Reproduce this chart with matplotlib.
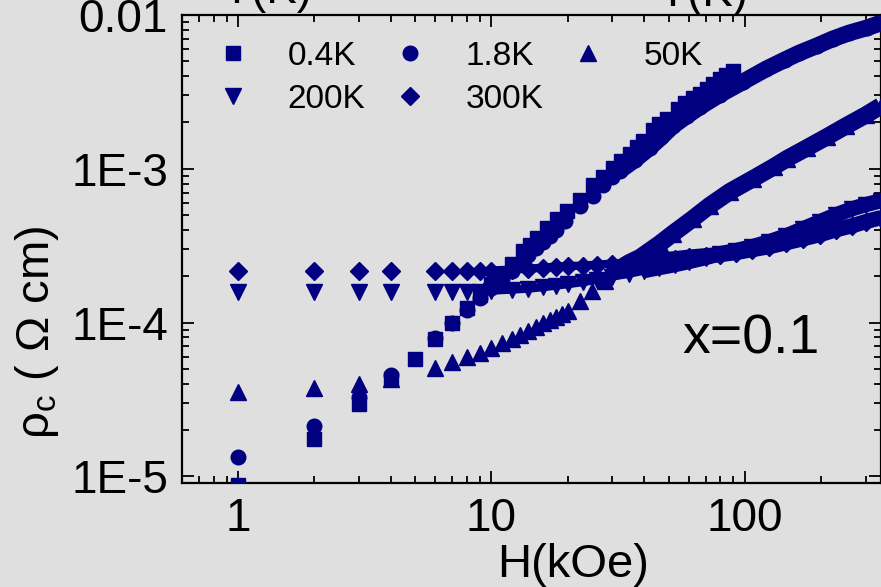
import matplotlib
matplotlib.use('Agg')
import matplotlib.pyplot as plt
from matplotlib.ticker import FixedLocator, FixedFormatter, LogLocator, NullFormatter
from matplotlib.lines import Line2D

plt.rcParams['font.family'] = ['Liberation Sans', 'DejaVu Sans']
plt.rcParams['mathtext.fontset'] = 'custom'
plt.rcParams['mathtext.rm'] = 'Liberation Sans'
plt.rcParams['mathtext.it'] = 'Liberation Sans:italic'

NAVY = '#000080'
BG = '#dfdfdf'

# field (kOe) and c-axis resistivity (Ohm cm)
# 0.4 K
h_04 = [1, 2, 3, 4, 5, 6, 7, 8, 9, 10, 10.8, 12, 13.3, 14.2, 15.1, 16.6, 18.2, 19.9,
        22.3, 25.1, 27.5, 30.1, 32.5, 35.2, 37.5, 39.6, 43.4, 46, 49.2, 54.4, 58,
        62.4, 66.5, 70.8, 75, 79.7, 84.5, 89.7]
r_04 = [8.8e-6, 1.75e-5, 2.94e-5, 4.3e-5, 5.8e-5, 7.8e-5, 1.0e-4, 1.25e-4, 1.5e-4,
        1.78e-4, 2.0e-4, 2.4e-4, 2.94e-4, 3.2e-4, 3.56e-4, 4.1e-4, 4.7e-4, 5.3e-4,
        6.3e-4, 7.8e-4, 8.9e-4, 1.01e-3, 1.12e-3, 1.25e-3, 1.38e-3, 1.52e-3, 1.78e-3,
        1.95e-3, 2.11e-3, 2.46e-3, 2.66e-3, 2.89e-3, 3.08e-3, 3.30e-3, 3.55e-3,
        3.83e-3, 4.06e-3, 4.32e-3]

# 1.8 K: stepped points, then the continuous sweep
h_18 = [1, 2, 3, 4, 6, 7, 8, 9, 10, 11, 12, 13, 14, 15, 16, 17, 18, 19.5, 22.3,
        25.2, 27.5, 30]
r_18 = [1.33e-5, 2.11e-5, 3.26e-5, 4.53e-5, 7.9e-5, 1.0e-4, 1.2e-4, 1.45e-4,
        1.68e-4, 1.92e-4, 2.18e-4, 2.45e-4, 2.75e-4, 3.05e-4, 3.35e-4, 3.65e-4,
        3.98e-4, 4.6e-4, 5.75e-4, 6.7e-4, 7.8e-4, 8.8e-4]
h_18s = [32.1, 36.7, 42.1, 46.9, 52, 59.1, 66.6, 79.5, 98.2, 121.5, 143.5, 164,
         192, 222, 258, 303, 344]
r_18s = [9.72e-4, 1.14e-3, 1.37e-3, 1.61e-3, 1.90e-3, 2.21e-3, 2.53e-3, 3.03e-3,
         3.67e-3, 4.46e-3, 5.10e-3, 5.66e-3, 6.29e-3, 6.98e-3, 7.64e-3, 8.24e-3,
         8.87e-3]

# 50 K
h_50 = [1, 2, 3, 4, 6, 7, 8, 9, 10, 11, 12, 13, 14, 15, 16, 17, 18, 19, 20, 22.3,
        25, 28]
r_50 = [3.51e-5, 3.73e-5, 4.0e-5, 4.3e-5, 5.1e-5, 5.5e-5, 5.93e-5, 6.34e-5,
        6.83e-5, 7.36e-5, 7.81e-5, 8.29e-5, 8.81e-5, 9.35e-5, 9.93e-5, 1.046e-4,
        1.094e-4, 1.144e-4, 1.196e-4, 1.39e-4, 1.614e-4, 1.874e-4]
h_50s = [32, 35, 38.5, 46.2, 52, 62.3, 72.6, 87.3, 107.6, 130.3, 146.6, 175.9, 211,
         251, 301, 344]
r_50s = [2.24e-4, 2.45e-4, 2.64e-4, 3.26e-4, 3.79e-4, 4.73e-4, 5.76e-4, 7.10e-4,
         8.61e-4, 1.031e-3, 1.162e-3, 1.368e-3, 1.614e-3, 1.90e-3, 2.24e-3, 2.56e-3]

# 200 K
h_200 = [1, 2, 3, 4, 6, 7, 8, 9]
r_200 = [1.59e-4, 1.59e-4, 1.59e-4, 1.59e-4, 1.59e-4, 1.59e-4, 1.59e-4, 1.59e-4]
h_200s = [10, 12, 14, 16, 18, 20, 23, 26, 30, 35, 40, 46, 53, 60, 70, 80, 92, 107,
          125, 146, 170, 198, 230, 266, 300, 344]
r_200s = [1.614e-4, 1.638e-4, 1.663e-4, 1.70e-4, 1.739e-4, 1.778e-4, 1.832e-4,
          1.902e-4, 1.99e-4, 2.08e-4, 2.176e-4, 2.276e-4, 2.38e-4, 2.49e-4, 2.643e-4,
          2.806e-4, 2.935e-4, 3.115e-4, 3.357e-4, 3.67e-4, 4.08e-4, 4.53e-4, 5.03e-4,
          5.50e-4, 5.84e-4, 6.20e-4]

# 300 K
h_300 = [1, 2, 3, 4, 6, 7, 8, 9]
r_300 = [2.18e-4, 2.18e-4, 2.18e-4, 2.18e-4, 2.18e-4, 2.18e-4, 2.18e-4, 2.18e-4]
h_300s = [10, 12, 14, 16, 18, 20, 23, 26, 30, 35, 40, 46, 53, 60, 70, 80, 92, 107,
          125, 146, 170, 198, 230, 266, 300, 344]
r_300s = [2.18e-4, 2.21e-4, 2.24e-4, 2.276e-4, 2.31e-4, 2.33e-4, 2.345e-4, 2.38e-4,
          2.416e-4, 2.45e-4, 2.49e-4, 2.546e-4, 2.60e-4, 2.66e-4, 2.72e-4, 2.765e-4,
          2.85e-4, 2.98e-4, 3.115e-4, 3.31e-4, 3.51e-4, 3.73e-4, 4.02e-4, 4.265e-4,
          4.53e-4, 4.81e-4]

x_ticks = [1, 10, 100]
x_tick_labels = ['1', '10', '100']
y_ticks = [1e-5, 1e-4, 1e-3, 1e-2]
y_tick_labels = ['1E-5', '1E-4', '1E-3', '0.01']

fig = plt.figure(figsize=(8.81, 5.87), dpi=100, facecolor=BG)
ax = fig.add_axes([182 / 881, 1 - 483 / 587, 699 / 881, 468 / 587])
ax.set_facecolor(BG)


def sweep(hs, rs, lw_low, lw_high, split=40):
    # line under the markers: the dense sweep points merge into a band
    lo = [(a, b) for a, b in zip(hs, rs) if a <= split]
    hi = [(a, b) for a, b in zip(hs, rs) if a >= split]
    for part, lw in ((lo, lw_low), (hi, lw_high)):
        if len(part) > 1:
            ax.plot([p[0] for p in part], [p[1] for p in part], '-', color=NAVY,
                    lw=lw, solid_capstyle='butt', solid_joinstyle='round',
                    zorder=2)


sweep(h_300s, r_300s, 6, 11)
sweep(h_200s, r_200s, 6, 11)
sweep(h_50s, r_50s, 11, 12.5, split=30)
sweep(h_18s, r_18s, 12, 12, split=30)

ms = dict(ls='none', color=NAVY, mec=NAVY, zorder=3)
ax.plot(h_300 + h_300s, r_300 + r_300s, marker='D', ms=8.7, **ms)
ax.plot(h_200 + h_200s, r_200 + r_200s, marker='v', ms=11.5, **ms)
ax.plot(h_50 + h_50s, r_50 + r_50s, marker='^', ms=11.5, **ms)
ax.plot(h_18 + h_18s, r_18 + r_18s, marker='o', ms=10.5, **ms)
ax.plot(h_04, r_04, marker='s', ms=9.5, **ms)

ax.set_xscale('log')
ax.set_yscale('log')
ax.set_xlim(0.6, 345)
ax.set_ylim(9.05e-6, 1e-2)

ax.xaxis.set_major_locator(FixedLocator(x_ticks))
ax.xaxis.set_major_formatter(FixedFormatter(x_tick_labels))
ax.yaxis.set_major_locator(FixedLocator(y_ticks))
ax.yaxis.set_major_formatter(FixedFormatter(y_tick_labels))
for a in (ax.xaxis, ax.yaxis):
    a.set_minor_locator(LogLocator(base=10, subs=range(2, 10), numticks=20))
    a.set_minor_formatter(NullFormatter())

ax.tick_params(which='both', direction='in', top=True, right=True, width=1.3,
               color='black')
ax.tick_params(which='major', length=8.5, labelsize=33)
ax.tick_params(which='minor', length=5)
ax.tick_params(axis='x', pad=10)
ax.tick_params(axis='y', pad=10)
for s in ax.spines.values():
    s.set_linewidth(1.6)

# legend in row order: 0.4K 1.8K 50K / 200K 300K
def h(m, s):
    return Line2D([], [], ls='none', marker=m, ms=s, color=NAVY, mec=NAVY)

handles = [h('s', 9.5), h('v', 11.5), h('o', 10.5), h('D', 8.7), h('^', 11.5)]
labels = ['0.4K', '200K', '1.8K', '300K', '50K']
fig.legend(handles, labels, ncol=3, frameon=False, fontsize=24,
           loc='upper left', bbox_to_anchor=(216 / 881, 1 - 41 / 587),
           borderpad=0, borderaxespad=0, handlelength=1.0, handletextpad=1.15,
           columnspacing=0.85, labelspacing=0.36)

fig.text(682 / 881, 1 - 353 / 587, 'x=0.1', fontsize=40, ha='left', va='baseline')
fig.text(573 / 881, 1 - 565 / 587, 'H(kOe)', fontsize=34, ha='center', va='center')
fig.text(37 / 881, 1 - 332 / 587, r'$\mathregular{\rho_c}$ ( Ω cm)', fontsize=34,
         rotation=90, ha='center', va='center')

# axis titles of the panels above, cut by the top edge
fig.text(268 / 881, 1 - 3 / 587, 'T(K)', fontsize=33, ha='center', va='baseline')
fig.text(704 / 881, 1 - 6 / 587, 'T(K)', fontsize=33, ha='center', va='baseline')

fig.savefig('out.png', dpi=100, facecolor=BG)
